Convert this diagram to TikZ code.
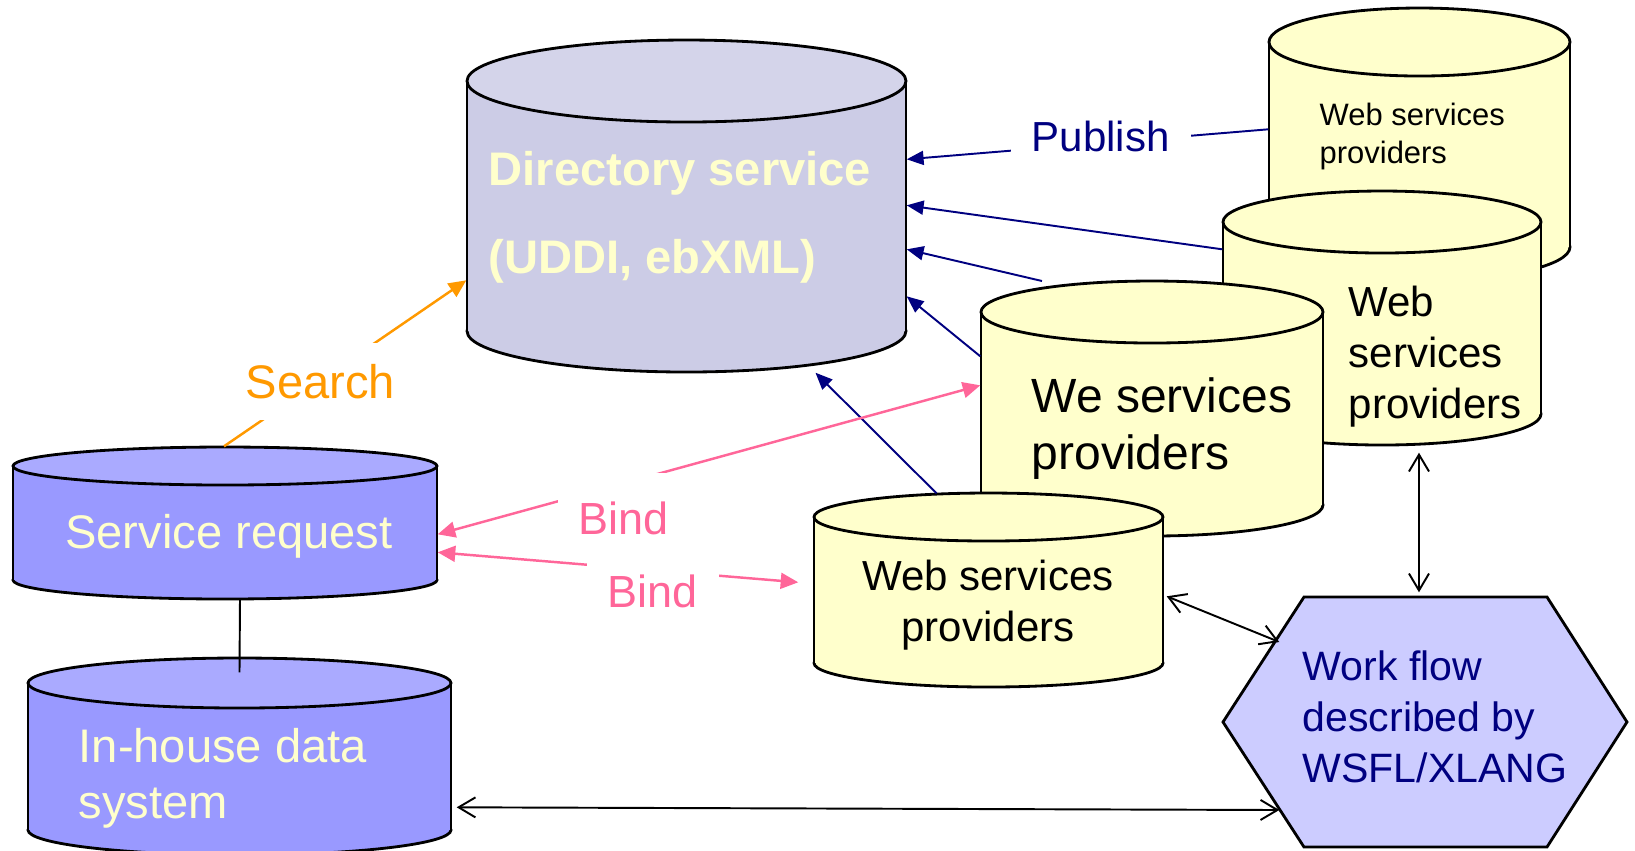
\documentclass[tikz,border=0pt]{standalone}
\usepackage{fontspec}
\setmainfont{Liberation Sans}
\usetikzlibrary{arrows.meta,calc,fit}

\definecolor{dirbody}{RGB}{204,204,230}
\definecolor{dirtop}{RGB}{212,212,234}
\definecolor{reqbody}{RGB}{153,153,255}
\definecolor{reqtop}{RGB}{170,170,255}
\definecolor{wsfill}{RGB}{255,255,204}
\definecolor{flowfill}{RGB}{204,204,255}
\definecolor{paleyellow}{RGB}{255,255,204}
\definecolor{navy}{RGB}{0,0,128}
\definecolor{searchorange}{RGB}{255,153,0}
\definecolor{bindpink}{RGB}{255,102,153}

% cylinder: name, left, right, top y, bottom y, y radius, body colour, top colour
\newcommand{\dbcyl}[8]{%
  \draw[cyl, fill=#7] ({(#2+#3)/2},#5) ellipse [x radius={(#3-#2)/2}, y radius=#6];
  \fill[#7] (#2,#4) rectangle (#3,#5);
  \draw[cyl] (#2,#4) -- (#2,#5) (#3,#4) -- (#3,#5);
  \draw[cyl, fill=#8] ({(#2+#3)/2},#4) ellipse [x radius={(#3-#2)/2}, y radius=#6];
  \coordinate (#1-nw) at (#2,#4);
  \coordinate (#1-se) at (#3,#5);
  \node[fit=(#1-nw)(#1-se), inner sep=0pt] (#1) {};
}

\tikzset{
  cyl/.style={draw=black, line width=0.8pt},
  txt/.style={inner sep=0pt, anchor=base west, align=left},
  lbl/.style={fill=white, inner sep=6pt, anchor=base west},
  pubarrow/.style={draw=navy, line width=0.55pt, -{Triangle[length=4.8pt,width=4pt]}},
  searcharrow/.style={draw=searchorange, line width=0.7pt, -{Triangle[length=5pt,width=4.5pt]}},
  bindarrow/.style={draw=bindpink, line width=0.7pt,
    {Triangle[length=5pt,width=4.5pt]}-{Triangle[length=5pt,width=4.5pt]}},
  flowarrow/.style={draw=black, line width=0.55pt,
    {Straight Barb[length=4.8pt,width=5.7pt]}-{Straight Barb[length=4.8pt,width=5.7pt]}},
}

\begin{document}
\begin{tikzpicture}[x=0.01cm,y=-0.01cm]
\useasboundingbox (0,0) rectangle (1635,850);

% data stores
\dbcyl{dir}{467}{906}{81}{331}{41}{dirbody}{dirtop}
\dbcyl{req}{13}{437}{466}{580}{19}{reqbody}{reqtop}
\dbcyl{inh}{28}{451}{683}{830}{25}{reqbody}{reqtop}

% providers
\dbcyl{ws1}{1269}{1570}{42}{247}{34}{wsfill}{wsfill}
\dbcyl{ws2}{1223}{1541}{222}{414}{31}{wsfill}{wsfill}
\dbcyl{ws3}{981}{1323}{312}{505}{31}{wsfill}{wsfill}
\dbcyl{ws4}{814}{1163}{517}{663}{24}{wsfill}{wsfill}

% work flow
\draw[cyl, fill=flowfill] (1304,597) -- (1547,597) -- (1627,722) -- (1547,847)
  -- (1304,847) -- (1223,722) -- cycle;
\coordinate (flow-nw) at (1223,597);
\coordinate (flow-se) at (1627,847);
\node[fit=(flow-nw)(flow-se), inner sep=0pt] (flow) {};

% texts (anchored at the baseline of the last line)
\node[txt, text=paleyellow, font=\bfseries\fontsize{13.4}{25}\selectfont] (dirtext) at (488,273)
  {Directory service\\(UDDI, ebXML)};
\node[txt, font=\fontsize{8.8}{10.8}\selectfont] (ws1text) at (1319,163) {Web services\\providers};
\node[txt, font=\fontsize{11.95}{14.5}\selectfont] (ws2text) at (1348,418) {Web\\services\\providers};
\node[txt, font=\fontsize{13.66}{16.2}\selectfont] (ws3text) at (1031,469) {We services\\providers};
\node[inner sep=0pt, anchor=base, align=center, font=\fontsize{11.95}{14.5}\selectfont] (ws4text)
  at (988,641) {Web services\\providers};
\node[inner sep=0pt, anchor=base, text=paleyellow, font=\fontsize{13.4}{16}\selectfont] (reqtext)
  at (229,548) {Service request};
\node[txt, text=paleyellow, font=\fontsize{13.4}{15.9}\selectfont] (inhtext) at (78,818)
  {In-house data\\system};
\node[txt, text=navy, font=\fontsize{11.67}{14.5}\selectfont] (flowtext) at (1302,782)
  {Work flow\\described by\\WSFL/XLANG};

% publish
\coordinate (pub3) at (1042,281);
\draw[pubarrow] ($(ws1.north west)+(0,88)$) -- ($(dir.north east)+(0,79)$);
\draw[pubarrow] ($(ws2.north west)+(0,28)$) -- ($(dir.north east)+(0,125)$);
\draw[pubarrow] (pub3) -- ($(dir.north east)+(0,169)$);
\draw[pubarrow] ($(ws3.north west)+(0,45)$) -- ($(dir.north east)+(0,216)$);
\draw[pubarrow] ($(ws4.north)+(-52,-23)$) -- ($(dir.south)+(129,41)$);

% search and bind
\draw[searcharrow] ($(req.north)+(-1,-19)$) -- ($(dir.north west)+(0,200)$);
\draw[bindarrow] ($(ws3.north west)+(0,74)$) -- ($(req.north east)+(0,69)$);

% links
\draw[cyl, line width=0.55pt] ($(req.south)+(15,18)$) -- ($(inh.north)+(0,-10)$);
\draw[flowarrow] ($(ws2.south)+(37,38)$) -- ($(flow.north)+(-6,-4)$);
\draw[flowarrow] ($(ws4.north east)+(3,80)$) -- ($(flow.west)+(57,-80)$);
\draw[flowarrow] ($(inh.north east)+(5,125)$) -- ($(flow.west)+(57,88)$);

% labels
\node[lbl, text=navy, font=\fontsize{11.95}{14}\selectfont] (publish) at (1010,151) {Publish};
\node[lbl, text=searchorange, font=\fontsize{13.4}{16}\selectfont] (search) at (224,398) {Search};
\node[lbl, inner ysep=8pt, text=bindpink, font=\fontsize{12.8}{15}\selectfont] (bind1) at (557,534) {Bind};
\draw[bindarrow] ($(req.north east)+(0,87)$) -- ($(ws4.north west)+(-15,66)$);
\node[lbl, text=bindpink, font=\fontsize{12.8}{15}\selectfont] (bind2) at (586,607) {Bind};
\end{tikzpicture}
\end{document}
